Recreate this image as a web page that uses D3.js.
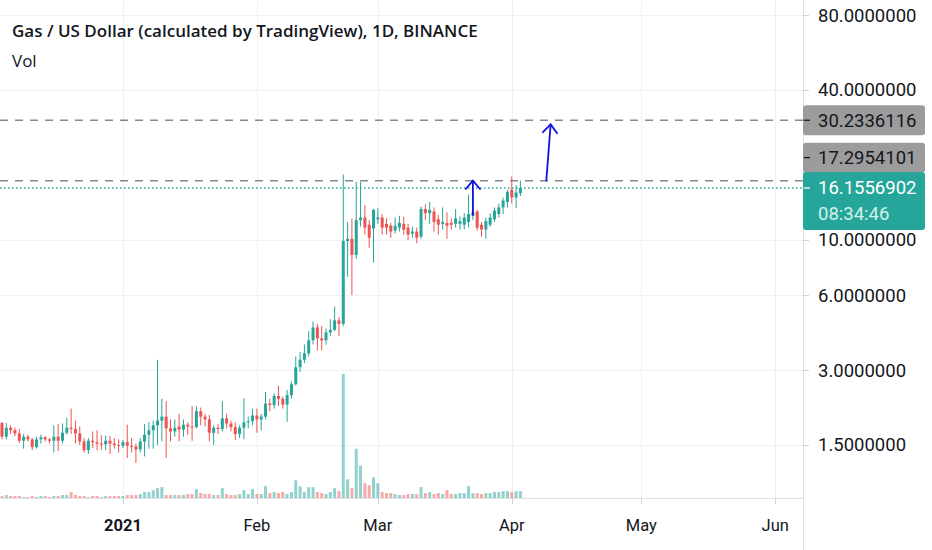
<!DOCTYPE html>
<html>
<head>
<meta charset="utf-8">
<script src="https://cdn.jsdelivr.net/npm/d3@7"></script>
<style>
  body { margin: 0; background: #fff; }
  svg { display: block; }
</style>
</head>
<body>
<svg width="932" height="550"></svg>
<script>
// daily candles, Dec 4 2020 .. Apr 3 2021
const firstDay = new Date(Date.UTC(2020, 11, 4));
const lastDay = new Date(Date.UTC(2021, 3, 3));

const opens = [
  1.84, 1.62, 1.76, 1.72, 1.67, 1.56, 1.62, 1.58, 1.47, 1.58, 1.61, 1.58, 1.56, 1.62, 1.56, 1.68,
  1.76, 1.74, 1.67, 1.55, 1.43, 1.56, 1.54, 1.52, 1.51, 1.56, 1.52, 1.50, 1.49, 1.54, 1.49, 1.48,
  1.44, 1.55, 1.65, 1.72, 1.80, 1.88, 1.95, 1.75, 1.70, 1.78, 1.73, 1.81, 1.78, 1.77, 2.05, 1.95,
  1.90, 1.68, 1.76, 1.74, 1.92, 1.83, 1.77, 1.66, 1.76, 1.85, 1.87, 1.97, 1.90, 1.95, 2.20, 2.17,
  2.36, 2.30, 2.18, 2.38, 2.63, 3.08, 3.30, 3.50, 3.95, 4.45, 4.02, 3.95, 4.25, 4.35, 4.75, 4.60,
  9.90, 10.10, 8.70, 12.00, 12.30, 11.50, 11.10, 12.10, 12.30, 11.60, 11.40, 10.90, 11.20, 11.60, 11.20, 10.60,
  10.80, 10.30, 13.30, 12.80, 13.00, 12.10, 11.60, 11.70, 11.70, 11.60, 11.60, 11.50, 11.80, 12.50, 13.00, 11.50,
  11.00, 11.50, 12.10, 12.70, 13.50, 14.20, 15.90, 14.80, 15.40
];
const highs = [
  1.85, 1.84, 1.80, 1.76, 1.74, 1.66, 1.65, 1.60, 1.62, 1.65, 1.63, 1.60, 1.80, 1.82, 1.83, 1.93,
  2.10, 1.88, 1.78, 1.60, 1.60, 1.70, 1.72, 1.64, 1.64, 1.63, 1.60, 1.58, 1.57, 1.81, 1.60, 1.52,
  1.60, 1.82, 1.85, 1.88, 3.30, 2.30, 2.25, 1.90, 1.90, 2.00, 1.90, 1.85, 2.15, 2.15, 2.12, 2.00,
  1.98, 1.80, 1.82, 2.25, 2.00, 1.88, 1.85, 1.80, 2.31, 1.95, 2.10, 2.10, 2.00, 2.45, 2.30, 2.42,
  2.60, 2.35, 2.50, 2.70, 3.40, 3.55, 3.80, 4.30, 4.70, 4.60, 4.50, 4.40, 4.80, 5.40, 4.90, 18.30,
  11.80, 12.20, 17.10, 17.10, 13.80, 12.00, 13.30, 13.40, 12.70, 12.20, 11.70, 12.30, 12.50, 12.40, 11.60, 11.30,
  11.20, 13.60, 13.90, 14.20, 13.50, 12.60, 13.50, 12.90, 12.20, 13.30, 12.40, 12.80, 15.20, 15.60, 13.20, 11.80,
  12.30, 12.80, 13.50, 14.00, 14.80, 15.90, 18.00, 16.60, 17.30
];
const lows = [
  1.58, 1.58, 1.66, 1.63, 1.53, 1.45, 1.55, 1.43, 1.45, 1.52, 1.55, 1.52, 1.40, 1.42, 1.52, 1.65,
  1.66, 1.52, 1.50, 1.40, 1.38, 1.46, 1.43, 1.43, 1.43, 1.38, 1.45, 1.40, 1.46, 1.33, 1.40, 1.27,
  1.40, 1.35, 1.45, 1.45, 1.50, 1.55, 1.33, 1.55, 1.62, 1.55, 1.62, 1.65, 1.56, 1.75, 1.80, 1.78,
  1.55, 1.50, 1.66, 1.70, 1.75, 1.70, 1.57, 1.60, 1.58, 1.75, 1.80, 1.68, 1.72, 1.90, 2.05, 2.10,
  2.15, 2.10, 1.86, 2.30, 2.60, 2.95, 3.20, 3.40, 3.80, 3.60, 3.60, 3.80, 4.10, 4.30, 4.10, 4.50,
  7.10, 6.00, 8.40, 11.30, 10.50, 9.30, 8.10, 11.60, 10.50, 10.50, 10.20, 10.60, 10.80, 10.50, 10.00, 10.20,
  9.70, 10.10, 12.00, 11.60, 10.80, 10.50, 11.00, 10.10, 11.00, 11.20, 11.00, 11.00, 11.20, 12.00, 10.90, 10.30,
  10.10, 11.30, 11.80, 12.30, 12.70, 13.50, 14.00, 13.40, 15.00
];
const closes = [
  1.62, 1.76, 1.72, 1.67, 1.56, 1.62, 1.58, 1.47, 1.58, 1.61, 1.58, 1.56, 1.62, 1.56, 1.68, 1.76,
  1.74, 1.67, 1.55, 1.43, 1.56, 1.54, 1.52, 1.51, 1.56, 1.52, 1.50, 1.49, 1.54, 1.49, 1.48, 1.44,
  1.55, 1.65, 1.72, 1.80, 1.88, 1.95, 1.75, 1.70, 1.76, 1.73, 1.81, 1.78, 1.77, 2.05, 1.95, 1.90,
  1.68, 1.76, 1.74, 1.92, 1.83, 1.77, 1.66, 1.76, 1.85, 1.87, 1.97, 1.90, 1.95, 2.20, 2.17, 2.36,
  2.30, 2.18, 2.38, 2.63, 3.08, 3.30, 3.50, 3.95, 4.45, 4.02, 3.95, 4.25, 4.35, 4.75, 4.60, 9.90,
  10.10, 8.70, 12.00, 12.30, 11.20, 10.20, 13.20, 12.30, 11.20, 11.20, 10.80, 11.40, 11.70, 11.00, 10.50, 10.80,
  10.20, 13.30, 12.80, 13.20, 11.80, 11.50, 11.80, 11.40, 11.50, 12.20, 11.90, 12.30, 12.70, 12.90, 11.20, 11.00,
  11.90, 12.30, 13.10, 13.50, 14.40, 15.60, 14.80, 15.50, 16.1556902
];
// volume, thousands
const volumes = [
  2, 3, 2, 2, 2, 1, 1, 2, 1, 2, 2, 1, 2, 2, 3, 3,
  6, 3, 2, 2, 1, 2, 2, 1, 2, 2, 2, 2, 2, 3, 3, 3,
  4, 6, 6, 8, 10, 11, 3, 3, 3, 3, 3, 4, 4, 9, 5, 4,
  4, 3, 3, 10, 4, 3, 3, 4, 8, 4, 9, 4, 4, 12, 5, 6,
  5, 6, 4, 6, 18, 12, 6, 11, 11, 6, 5, 4, 6, 10, 7, 126,
  19, 10, 50, 33, 15, 13, 21, 15, 6, 5, 5, 4, 3, 3, 4, 4,
  4, 11, 5, 6, 4, 5, 4, 8, 4, 4, 5, 5, 12, 5, 5, 4,
  5, 5, 6, 6, 7, 7, 6, 7, 7
];

const priceTicks = [80, 40, 10, 6, 3, 1.5];
const monthTicks = [
  new Date(Date.UTC(2021, 0, 1)), new Date(Date.UTC(2021, 1, 1)), new Date(Date.UTC(2021, 2, 1)),
  new Date(Date.UTC(2021, 3, 1)), new Date(Date.UTC(2021, 4, 1)), new Date(Date.UTC(2021, 5, 1))
];
const monthLabels = ["2021", "Feb", "Mar", "Apr", "May", "Jun"];

const levels = [30.2336116, 17.2954101];
const lastPrice = 16.1556902;
const countdown = "08:34:46";
const arrows = [
  { from: [new Date(Date.UTC(2021, 2, 23)), 12.6], to: [new Date(Date.UTC(2021, 2, 23)), 17.3] },
  { from: [new Date(Date.UTC(2021, 3, 9)), 17.3], to: [new Date(Date.UTC(2021, 3, 10)), 29.1] }
];

const up = "#26a69a", down = "#ef5350";
const paneRight = 803, paneBottom = 498;

const days = d3.utcDay.range(firstDay, d3.utcDay.offset(lastDay, 1));
const candles = days.map((d, i) => ({
  date: d, o: opens[i], h: highs[i], l: lows[i], c: closes[i], v: volumes[i]
}));

const svg = d3.select("svg");

const x = d3.scaleUtc()
  .domain([firstDay, new Date(Date.UTC(2021, 5, 1))])
  .range([2, 2 + 179 * 4.32]);
const y = d3.scaleLog().domain([40, 1.5]).range([90, 445]);
const yVol = d3.scaleLinear().domain([0, d3.max(volumes)]).range([paneBottom, paneBottom - 124]);

const pane = svg.append("g");
pane.append("defs").append("clipPath").attr("id", "clip")
  .append("rect").attr("width", paneRight).attr("height", paneBottom);

// grid
pane.selectAll(".hgrid").data(priceTicks).enter().append("line")
  .attr("x1", 0).attr("x2", paneRight)
  .attr("y1", d => Math.round(y(d)) + 0.5).attr("y2", d => Math.round(y(d)) + 0.5)
  .attr("stroke", "#eef0f3");
pane.selectAll(".vgrid").data(monthTicks).enter().append("line")
  .attr("x1", d => Math.round(x(d)) + 0.5).attr("x2", d => Math.round(x(d)) + 0.5)
  .attr("y1", 0).attr("y2", paneBottom)
  .attr("stroke", "#eef0f3");

const plot = svg.append("g").attr("clip-path", "url(#clip)");

// volume
plot.selectAll(".vol").data(candles).enter().append("rect")
  .attr("x", d => x(d.date) - 1.5)
  .attr("width", 3)
  .attr("y", d => yVol(d.v))
  .attr("height", d => paneBottom - yVol(d.v))
  .attr("fill", d => d.c >= d.o ? up : down)
  .attr("fill-opacity", 0.5);

// level lines
plot.selectAll(".level").data(levels).enter().append("line")
  .attr("x1", 0).attr("x2", paneRight)
  .attr("y1", d => y(d)).attr("y2", d => y(d))
  .attr("stroke", "#86888f").attr("stroke-width", 1.5)
  .attr("stroke-dasharray", "8,7");

plot.append("line")
  .attr("x1", 0).attr("x2", paneRight)
  .attr("y1", y(lastPrice)).attr("y2", y(lastPrice))
  .attr("stroke", up).attr("stroke-width", 1.5)
  .attr("stroke-dasharray", "1.5,2.5");

// candles
const cg = plot.selectAll(".candle").data(candles).enter().append("g")
  .attr("fill", d => d.c >= d.o ? up : down)
  .attr("stroke", d => d.c >= d.o ? up : down);
cg.append("line")
  .attr("x1", d => x(d.date)).attr("x2", d => x(d.date))
  .attr("y1", d => y(d.h)).attr("y2", d => y(d.l))
  .attr("stroke-width", 1);
cg.append("rect")
  .attr("x", d => x(d.date) - 1.5)
  .attr("width", 3)
  .attr("y", d => y(Math.max(d.o, d.c)))
  .attr("height", d => Math.max(1, Math.abs(y(d.o) - y(d.c))))
  .attr("stroke", "none");

// arrows
arrows.forEach(a => {
  const x1 = x(a.from[0]), y1 = y(a.from[1]);
  const x2 = x(a.to[0]), y2 = y(a.to[1]);
  const ang = Math.atan2(y1 - y2, x1 - x2);
  const len = 11, spread = 0.7;
  const w1 = [x2 + len * Math.cos(ang + spread), y2 + len * Math.sin(ang + spread)];
  const w2 = [x2 + len * Math.cos(ang - spread), y2 + len * Math.sin(ang - spread)];
  const g = plot.append("g").attr("stroke", "#1212e0").attr("stroke-width", 1.8)
    .attr("fill", "none").attr("stroke-linecap", "round").attr("stroke-linejoin", "round");
  g.append("line").attr("x1", x1).attr("y1", y1).attr("x2", x2).attr("y2", y2);
  g.append("polyline").attr("points", [w1, [x2, y2], w2].map(p => p.join(",")).join(" "));
});

// axes frame
svg.append("line").attr("x1", paneRight + 0.5).attr("x2", paneRight + 0.5)
  .attr("y1", 0).attr("y2", 550).attr("stroke", "#dfe1e6");
svg.append("line").attr("x1", 0).attr("x2", paneRight)
  .attr("y1", paneBottom + 0.5).attr("y2", paneBottom + 0.5).attr("stroke", "#dfe1e6");

// right price axis
const rAxis = svg.append("g").attr("font-family", "Roboto, sans-serif")
  .attr("font-size", 18.5).attr("fill", "#131722");
rAxis.selectAll(".tick").data(priceTicks).enter().append("line")
  .attr("x1", paneRight).attr("x2", paneRight + 6)
  .attr("y1", d => Math.round(y(d)) + 0.5).attr("y2", d => Math.round(y(d)) + 0.5)
  .attr("stroke", "#cfd2d8");
rAxis.selectAll(".lbl").data(priceTicks).enter().append("text")
  .attr("x", 818).attr("y", d => y(d)).attr("dy", "0.35em")
  .text(d => d3.format(".7f")(d));

// level price labels (17.29 pushed up to clear the last price label)
const levelLabels = [
  { v: levels[0], cy: y(levels[0]) },
  { v: levels[1], cy: y(levels[1]) - 23 }
];
rAxis.selectAll(".lvbox").data(levelLabels).enter().append("rect")
  .attr("x", paneRight).attr("y", d => d.cy - 15).attr("width", 122).attr("height", 30)
  .attr("rx", 3).attr("fill", "#9c9c9c");
rAxis.selectAll(".lvtick").data(levelLabels).enter().append("line")
  .attr("x1", paneRight + 1).attr("x2", paneRight + 7)
  .attr("y1", d => d.cy).attr("y2", d => d.cy)
  .attr("stroke", "#131722").attr("stroke-width", 1.3);
rAxis.selectAll(".lvtxt").data(levelLabels).enter().append("text")
  .attr("x", 818).attr("y", d => d.cy).attr("dy", "0.35em")
  .text(d => d3.format(".7f")(d.v));

const lp = y(lastPrice);
rAxis.append("rect").attr("x", paneRight).attr("y", lp - 16).attr("width", 122).attr("height", 58)
  .attr("rx", 3).attr("fill", up);
rAxis.append("line").attr("x1", paneRight + 1).attr("x2", paneRight + 7)
  .attr("y1", lp).attr("y2", lp).attr("stroke", "#fff").attr("stroke-width", 1.3);
rAxis.append("text").attr("x", 818).attr("y", lp).attr("dy", "0.35em")
  .attr("fill", "#fff").text(d3.format(".7f")(lastPrice));
rAxis.append("text").attr("x", 818).attr("y", lp + 26).attr("dy", "0.35em")
  .attr("fill", "#d4f0ec").text(countdown);

// time axis
const tAxis = svg.append("g").attr("font-family", "Roboto, sans-serif")
  .attr("font-size", 16.5).attr("fill", "#131722").attr("text-anchor", "middle");
tAxis.selectAll(".tk").data(monthTicks).enter().append("line")
  .attr("x1", d => Math.round(x(d)) + 0.5).attr("x2", d => Math.round(x(d)) + 0.5)
  .attr("y1", paneBottom).attr("y2", paneBottom + 6).attr("stroke", "#cfd2d8");
tAxis.selectAll(".ml").data(monthTicks).enter().append("text")
  .attr("x", d => x(d)).attr("y", 531)
  .attr("font-weight", (d, i) => i === 0 ? "bold" : "normal")
  .text((d, i) => monthLabels[i]);

// legend
const legend = svg.append("g").attr("font-family", "'Open Sans', sans-serif").attr("fill", "#131722");
legend.append("text").attr("x", 12).attr("y", 37).attr("font-size", 17).attr("font-weight", 600)
  .text("Gas / US Dollar (calculated by TradingView), 1D, BINANCE");
legend.append("text").attr("x", 12).attr("y", 67).attr("font-size", 17)
  .text("Vol");
</script>
</body>
</html>
